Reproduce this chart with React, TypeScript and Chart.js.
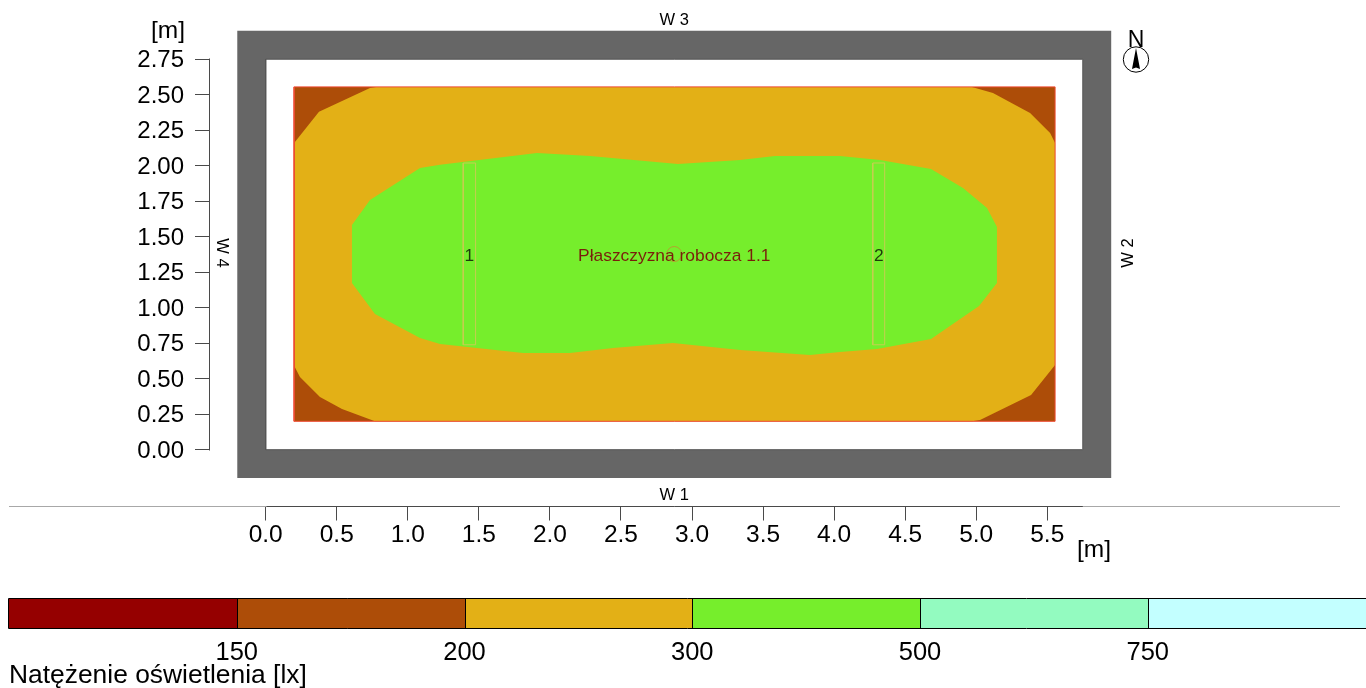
import React, { useEffect, useRef } from "react";
import { Chart, registerables } from "chart.js";

Chart.register(...registerables);

type P = { x: number; y: number };
const pts = (a: number[][]): P[] => a.map(([x, y]) => ({ x, y }));

const xTicks = [0, 0.5, 1, 1.5, 2, 2.5, 3, 3.5, 4, 4.5, 5, 5.5];
const yTicks = [0, 0.25, 0.5, 0.75, 1, 1.25, 1.5, 1.75, 2, 2.25, 2.5, 2.75];

const wallOuter = [[-0.2, -0.2], [5.95, -0.2], [5.95, 2.95], [-0.2, 2.95], [-0.2, -0.2]];
const roomInner = [[0, 0], [5.75, 0], [5.75, 2.75], [0, 2.75], [0, 0]];
const workPlane = [[0.2, 0.2], [5.555, 0.2], [5.555, 2.555], [0.2, 2.555], [0.2, 0.2]];

const contour200 = [
  [0.2, 2.16], [0.375, 2.38], [0.734, 2.547], [0.776, 2.555], [4.97, 2.555], [5.118, 2.512],
  [5.379, 2.371], [5.52, 2.23], [5.555, 2.16], [5.555, 0.596], [5.386, 0.385], [5.027, 0.209],
  [4.97, 0.2], [0.769, 0.2], [0.537, 0.287], [0.382, 0.371], [0.241, 0.512], [0.2, 0.592], [0.2, 2.16],
];
const contour300 = [
  [0.607, 1.582], [0.734, 1.758], [1.086, 1.984], [1.227, 2.006], [1.909, 2.09], [2.282, 2.068],
  [2.901, 2.012], [3.338, 2.04], [3.584, 2.068], [4.041, 2.068], [4.323, 2.04], [4.682, 1.977],
  [4.907, 1.843], [5.076, 1.702], [5.146, 1.568], [5.146, 1.174], [5.02, 1.012], [4.682, 0.78],
  [4.302, 0.709], [4.041, 0.688], [3.83, 0.667], [3.338, 0.702], [2.866, 0.751], [2.444, 0.716],
  [2.141, 0.681], [1.811, 0.681], [1.227, 0.744], [1.086, 0.787], [0.769, 0.956], [0.607, 1.174],
  [0.607, 1.582],
];
const luminaire1 = [[1.39, 0.739], [1.477, 0.739], [1.477, 2.019], [1.39, 2.019], [1.39, 0.739]];
const luminaire2 = [[4.272, 0.739], [4.356, 0.739], [4.356, 2.019], [4.272, 2.019], [4.272, 0.739]];
const planeMarker = [[2.875, 1.378]];

const legendLevels = ["150", "200", "300", "500", "750"];
const legendColours = ["#950000", "#AD4D08", "#E3B016", "#76EE2C", "#93FBC0", "#C3FFFF"];

const FONT = '"Liberation Sans", Arial, sans-serif';

const decor = {
  id: "decor",
  afterDatasetsDraw(chart: any) {
    const { ctx, scales } = chart;
    const X = (v: number) => scales.x.getPixelForValue(v);
    const Y = (v: number) => scales.y.getPixelForValue(v);
    const text = (s: string, x: number, y: number, size: number, color = "#000", align: CanvasTextAlign = "center", rot = 0) => {
      ctx.save();
      ctx.translate(x, y);
      ctx.rotate(rot);
      ctx.font = `${size}px ${FONT}`;
      ctx.fillStyle = color;
      ctx.textAlign = align;
      ctx.textBaseline = "middle";
      ctx.fillText(s, 0, 0);
      ctx.restore();
    };
    const line = (x1: number, y1: number, x2: number, y2: number, c: string, w = 1) => {
      ctx.save();
      ctx.strokeStyle = c;
      ctx.lineWidth = w;
      ctx.beginPath();
      ctx.moveTo(x1, y1);
      ctx.lineTo(x2, y2);
      ctx.stroke();
      ctx.restore();
    };

    // separator + axis lines
    line(9, 506.5, 1340, 506.5, "#a8a8a8");
    line(Math.round(X(0)) + 0.5, 506.5, X(5.75), 506.5, "#4a4a4a");
    line(209.5, Math.round(Y(2.75)) - 0.5, 209.5, Math.round(Y(0)) + 0.5, "#4a4a4a");

    // plane + luminaire labels
    text("Płaszczyzna robocza 1.1", X(2.875), Y(1.36), 17.4, "#7A1E0C");
    text("1", X(1.433), Y(1.36), 17.4, "#1E3A0C");
    text("2", X(4.314), Y(1.36), 17.4, "#1E3A0C");

    // wall labels
    text("W 3", X(2.875), 20, 16.5);
    text("W 1", X(2.875), 495, 16.5);
    text("W 2", 1128, Y(1.385), 16.5, "#000", "center", -Math.PI / 2);
    text("W 4", 222, Y(1.385), 16.5, "#000", "center", Math.PI / 2);

    // axis units
    text("[m]", 185, 31.5, 24.5, "#000", "right");
    text("[m]", 1077, 550, 24.5, "#000", "left");

    // north arrow
    text("N", 1136, 41, 23);
    ctx.save();
    ctx.beginPath();
    ctx.arc(1136, 59.5, 12.7, 0, Math.PI * 2);
    ctx.strokeStyle = "#000";
    ctx.lineWidth = 1;
    ctx.stroke();
    ctx.beginPath();
    ctx.moveTo(1136, 48);
    ctx.lineTo(1140, 69);
    ctx.lineTo(1136, 67.5);
    ctx.lineTo(1132, 69);
    ctx.closePath();
    ctx.fillStyle = "#000";
    ctx.fill();
    ctx.restore();

    // colour scale
    const left = 9, cell = 227.75, top = 599, h = 29;
    legendColours.forEach((c, i) => {
      const a = Math.round(left + i * cell);
      const b = Math.round(left + (i + 1) * cell);
      ctx.fillStyle = c;
      ctx.fillRect(a, top, b - a, h);
    });
    ctx.strokeStyle = "#000";
    ctx.lineWidth = 1;
    ctx.beginPath();
    ctx.moveTo(1366, top - 0.5);
    ctx.lineTo(left - 0.5, top - 0.5);
    ctx.lineTo(left - 0.5, top + h + 0.5);
    ctx.lineTo(1366, top + h + 0.5);
    legendLevels.forEach((_, i) => {
      const x = Math.round(left + (i + 1) * cell) + 0.5;
      ctx.moveTo(x, top);
      ctx.lineTo(x, top + h);
    });
    ctx.stroke();
    legendLevels.forEach((s, i) => text(s, left + (i + 1) * cell, 652.5, 25.5));
    text("Natężenie oświetlenia [lx]", 9, 676, 26.4, "#000", "left");
  },
};

const poly = (data: number[][], color: string, order: number, border = "transparent", bw = 0) => ({
  data: pts(data),
  showLine: true,
  fill: color === "transparent" ? false : "shape",
  backgroundColor: color,
  borderColor: border,
  borderWidth: bw,
  pointRadius: 0,
  tension: 0,
  order,
});

const noPadding = (s: any) => {
  s.paddingLeft = 0;
  s.paddingRight = 0;
  s.paddingTop = 0;
  s.paddingBottom = 0;
};

export default function App() {
  const ref = useRef<HTMLCanvasElement>(null);
  useEffect(() => {
    document.body.style.margin = "0";
    const chart = new Chart(ref.current as HTMLCanvasElement, {
      type: "scatter",
      data: {
        datasets: [
          poly(wallOuter, "#666666", 7),
          poly(roomInner, "#FFFFFF", 6, "#555555", 1),
          poly(workPlane, "#AD4D08", 5),
          poly(contour200, "#E3B016", 4),
          poly(contour300, "#76EE2C", 3),
          poly(workPlane, "transparent", 2, "#EE4A30", 1),
          poly(luminaire1, "transparent", 1, "#C6CE50", 1),
          poly(luminaire2, "transparent", 1, "#C6CE50", 1),
          {
            data: pts(planeMarker),
            showLine: false,
            pointRadius: 7.5,
            pointBackgroundColor: "transparent",
            pointBorderColor: "#B5A030",
            pointBorderWidth: 1,
            order: 0,
          },
        ] as any,
      },
      options: {
        animation: false,
        responsive: false,
        layout: { padding: 0, autoPadding: false },
        plugins: { legend: { display: false }, tooltip: { enabled: false } },
        scales: {
          x: {
            type: "linear",
            bounds: "data",
            min: -0.399,
            max: 7.743,
            afterBuildTicks: (s: any) => { s.ticks = xTicks.map((value) => ({ value })); },
            afterFit: (s: any) => { s.height = 181.5; noPadding(s); },
            border: { display: false },
            grid: { drawOnChartArea: false, drawTicks: true, tickLength: 14, color: "#4a4a4a" },
            ticks: {
              autoSkip: false, maxRotation: 0, padding: 0, color: "#000",
              font: { family: FONT, size: 24.5 },
              callback: (v: any) => Number(v).toFixed(1),
            },
          },
          y: {
            type: "linear",
            bounds: "data",
            min: -0.4,
            max: 3.167,
            afterBuildTicks: (s: any) => { s.ticks = yTicks.map((value) => ({ value })); },
            afterFit: (s: any) => { s.width = 209; noPadding(s); },
            border: { display: false },
            grid: { drawOnChartArea: false, drawTicks: true, tickLength: 14, color: "#4a4a4a" },
            ticks: {
              autoSkip: false, padding: 11, color: "#000",
              font: { family: FONT, size: 24, lineHeight: "3px" },
              callback: (v: any) => ["", Number(v).toFixed(2)],
            },
          },
        },
      } as any,
      plugins: [decor],
    });
    return () => chart.destroy();
  }, []);
  return (
    <canvas
      ref={ref}
      width={1366}
      height={688}
      style={{ display: "block", width: 1366, height: 688 }}
    />
  );
}
